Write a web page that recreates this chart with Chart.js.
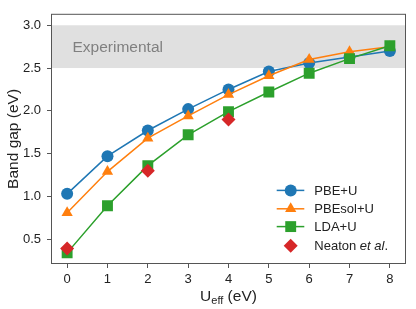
<!DOCTYPE html>
<html>
<head>
<meta charset="utf-8">
<script src="https://cdn.jsdelivr.net/npm/chart.js@4/dist/chart.umd.min.js"></script>
<style>
  html, body { margin: 0; padding: 0; background: #fff; }
  canvas { display: block; }
</style>
</head>
<body>
<canvas id="gapChart" width="416" height="309"></canvas>
<script>
// U_eff values (eV) on the x axis
const uEff = [0, 1, 2, 3, 4, 5, 6, 7, 8];

// band gaps (eV) per functional
const pbeU = [1.03, 1.47, 1.77, 2.02, 2.25, 2.46, 2.56, 2.63, 2.70];
const pbesolU = [0.81, 1.29, 1.68, 1.94, 2.19, 2.41, 2.60, 2.69, 2.75];
const ldaU = [0.34, 0.89, 1.36, 1.72, 1.99, 2.22, 2.44, 2.61, 2.76];

// reference values from Neaton et al.
const neatonU = [0, 2, 4];
const neatonGap = [0.39, 1.30, 1.90];

// experimental range
const expBand = [2.5, 3.0];
const expLabel = 'Experimental';

const xTicks = [0, 1, 2, 3, 4, 5, 6, 7, 8];
const yTicks = [0.5, 1.0, 1.5, 2.0, 2.5, 3.0];

const FONT = '"Liberation Sans", Arial, sans-serif';
const FRAME = '#555555';

function toPoints(xs, ys) {
    return xs.map((x, i) => ({ x: x, y: ys[i] }));
}

const series = [
    { label: 'PBE+U', xs: uEff, ys: pbeU, color: '#1f77b4', style: 'circle', r: 6, line: true, order: 3 },
    { label: 'PBEsol+U', xs: uEff, ys: pbesolU, color: '#ff7f0e', style: 'triangle', r: 6.5, line: true, order: 2 },
    { label: 'LDA+U', xs: uEff, ys: ldaU, color: '#2ca02c', style: 'rect', r: 7.7, line: true, order: 1 },
    { label: 'Neaton', xs: neatonU, ys: neatonGap, color: '#d62728', style: 'rectRot', r: 7, line: false, order: 0 },
];

// shaded experimental band + its label
const bandPlugin = {
    id: 'expBand',
    beforeDatasetsDraw(chart) {
        const { ctx, chartArea, scales } = chart;
        const yTop = scales.y.getPixelForValue(expBand[1]);
        const yBot = scales.y.getPixelForValue(expBand[0]);
        ctx.save();
        ctx.fillStyle = '#e0e0e0';
        ctx.fillRect(chartArea.left, yTop, chartArea.right - chartArea.left, yBot - yTop);
        ctx.fillStyle = '#808080';
        ctx.font = '15.5px ' + FONT;
        ctx.textBaseline = 'middle';
        ctx.fillText(expLabel, chartArea.left + 21.5, (yTop + yBot) / 2 + 1);
        ctx.restore();
    },
};

// frame, x title with subscript, and the legend
const decorPlugin = {
    id: 'decor',
    afterDraw(chart) {
        const { ctx, chartArea } = chart;
        ctx.save();
        ctx.strokeStyle = FRAME;
        ctx.lineWidth = 1;
        ctx.strokeRect(chartArea.left + 0.5, chartArea.top + 0.5,
            chartArea.right - chartArea.left - 1, chartArea.bottom - chartArea.top - 1);

        // x axis title: U_eff (eV)
        ctx.fillStyle = '#222';
        ctx.textBaseline = 'alphabetic';
        const big = '15.5px ' + FONT, small = '11px ' + FONT;
        ctx.font = big;
        const wU = ctx.measureText('U').width;
        const wRest = ctx.measureText(' (eV)').width;
        ctx.font = small;
        const wSub = ctx.measureText('eff').width;
        let x = (chartArea.left + chartArea.right) / 2 - (wU + wSub + wRest) / 2;
        const base = 301;
        ctx.font = big;
        ctx.fillText('U', x, base);
        x += wU;
        ctx.font = small;
        ctx.fillText('eff', x, base + 2.5);
        x += wSub;
        ctx.font = big;
        ctx.fillText(' (eV)', x, base);

        // legend
        const rowY = [73.6, 55.2, 37.4, 18.3];
        const lx0 = chartArea.right - 129.3, lx1 = chartArea.right - 101.7;
        const mx = chartArea.right - 115.3, tx = chartArea.right - 91.7;
        series.forEach((s, i) => {
            const y = chartArea.bottom - rowY[i];
            if (s.line) {
                ctx.strokeStyle = s.color;
                ctx.lineWidth = 1.5;
                ctx.beginPath();
                ctx.moveTo(lx0, y);
                ctx.lineTo(lx1, y);
                ctx.stroke();
            }
            ctx.fillStyle = s.color;
            drawMarker(ctx, s.style, mx, y, s.r);
            ctx.fillStyle = '#222';
            ctx.textBaseline = 'middle';
            ctx.font = '13px ' + FONT;
            if (s.label === 'Neaton') {
                let px = tx;
                ctx.fillText('Neaton ', px, y + 1);
                px += ctx.measureText('Neaton ').width;
                ctx.font = 'italic 13px ' + FONT;
                ctx.fillText('et al', px, y + 1);
                px += ctx.measureText('et al').width;
                ctx.font = '13px ' + FONT;
                ctx.fillText('.', px, y + 1);
            } else {
                ctx.fillText(s.label, tx, y + 1);
            }
        });
        ctx.restore();
    },
};

function drawMarker(ctx, style, x, y, r) {
    ctx.beginPath();
    if (style === 'circle') {
        ctx.arc(x, y, r, 0, Math.PI * 2);
    } else if (style === 'triangle') {
        for (let k = 0; k < 3; k++) {
            const a = -Math.PI / 2 + k * 2 * Math.PI / 3;
            const px = x + Math.cos(a) * r, py = y + Math.sin(a) * r;
            if (k === 0) ctx.moveTo(px, py); else ctx.lineTo(px, py);
        }
        ctx.closePath();
    } else if (style === 'rect') {
        const h = r * Math.SQRT1_2;
        ctx.rect(x - h, y - h, 2 * h, 2 * h);
    } else {
        ctx.moveTo(x, y - r);
        ctx.lineTo(x + r, y);
        ctx.lineTo(x, y + r);
        ctx.lineTo(x - r, y);
        ctx.closePath();
    }
    ctx.fill();
}

const ctx = document.getElementById('gapChart').getContext('2d');
new Chart(ctx, {
    type: 'scatter',
    data: {
        datasets: series.map(s => ({
            label: s.label,
            data: toPoints(s.xs, s.ys),
            showLine: s.line,
            borderColor: s.color,
            backgroundColor: s.color,
            borderWidth: 1.5,
            pointStyle: s.style,
            pointRadius: s.r,
            pointBorderWidth: 0,
            pointBackgroundColor: s.color,
            order: s.order,
        })),
    },
    options: {
        responsive: false,
        animation: false,
        devicePixelRatio: 1,
        layout: { padding: { left: 0, top: 9, right: 10, bottom: 0 } },
        plugins: {
            legend: { display: false },
            tooltip: { enabled: false },
        },
        scales: {
            x: {
                type: 'linear',
                min: -0.4,
                max: 8.4,
                afterBuildTicks: (scale) => { scale.ticks = xTicks.map(v => ({ value: v })); },
                afterFit: (scale) => { scale.height = 45; },
                grid: { drawOnChartArea: false, drawTicks: true, tickLength: 4, color: FRAME },
                border: { display: false },
                ticks: { color: '#222', padding: 4, font: { family: FONT, size: 13 }, callback: (v) => String(v) },
            },
            y: {
                min: 0.21,
                max: 3.134,
                afterBuildTicks: (scale) => { scale.ticks = yTicks.map(v => ({ value: v })); },
                afterFit: (scale) => { scale.width = 51; },
                grid: { drawOnChartArea: false, drawTicks: true, tickLength: 4, color: FRAME },
                border: { display: false },
                ticks: { color: '#222', padding: 6, font: { family: FONT, size: 13 }, callback: (v) => v.toFixed(1) },
                title: { display: true, text: 'Band gap (eV)', color: '#222', padding: { top: 4, bottom: 0 }, font: { family: FONT, size: 15.5 } },
            },
        },
    },
    plugins: [bandPlugin, decorPlugin],
});
</script>
</body>
</html>
